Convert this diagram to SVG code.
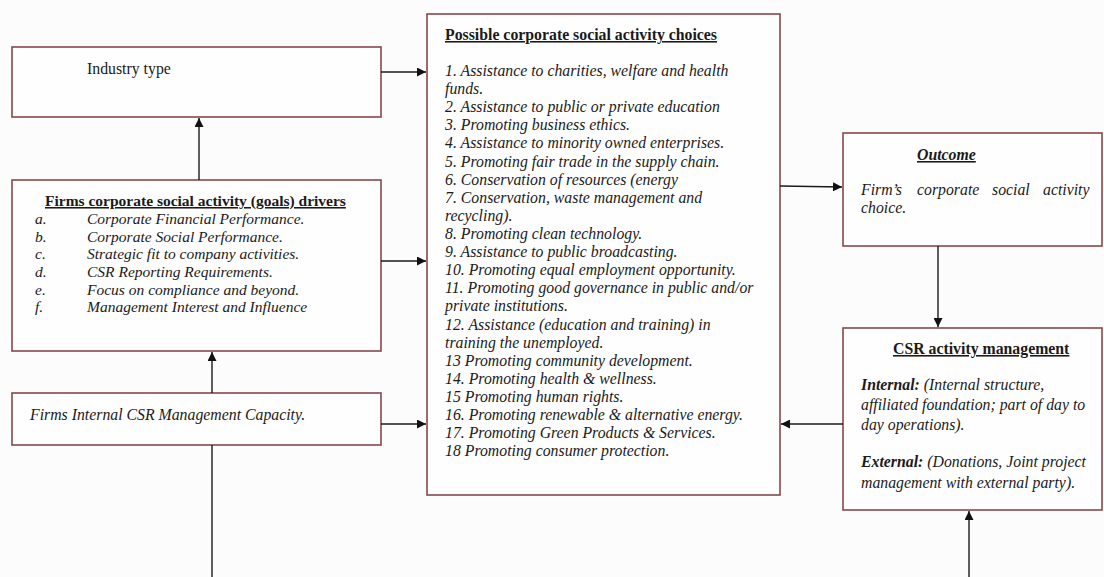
<svg xmlns="http://www.w3.org/2000/svg" width="1104" height="577" viewBox="0 0 1104 577">
<defs>
<style>
.box{fill:#fefefe;stroke:#85484a;stroke-width:1.6}
.t{font-family:"Liberation Serif","Times New Roman",serif;font-size:15.8px;fill:#1a1a1a}
.i{font-style:italic}
.b{font-weight:bold}
.u{text-decoration:underline}
.c{stroke:#1a1a1a;stroke-width:1.4;fill:none}
</style>
<marker id="ah" viewBox="0 0 10 10" refX="10" refY="5" markerWidth="10" markerHeight="9" markerUnits="userSpaceOnUse" orient="auto">
<path d="M0,0 L10,5 L0,10 z" fill="#111"/>
</marker>
</defs>
<rect width="1104" height="577" fill="#fcfcfc"/>

<g id="industry-type">
<rect class="box" x="12" y="47" width="369" height="70"/>
<text class="t" x="87" y="74">Industry type</text>
</g>

<g id="drivers">
<rect class="box" x="12" y="180" width="369" height="171"/>
<text class="t b u" x="45" y="206" style="font-size:15.5px">Firms corporate social activity (goals) drivers</text>
<g class="t i" style="font-size:15.5px">
<text x="35" y="224">a.</text><text x="87" y="224">Corporate Financial Performance.</text>
<text x="35" y="242">b.</text><text x="87" y="242">Corporate Social Performance.</text>
<text x="35" y="259">c.</text><text x="87" y="259">Strategic fit to company activities.</text>
<text x="35" y="277">d.</text><text x="87" y="277">CSR Reporting Requirements.</text>
<text x="35" y="295">e.</text><text x="87" y="295">Focus on compliance and beyond.</text>
<text x="35" y="312">f.</text><text x="87" y="312">Management Interest and Influence</text>
</g>
</g>

<g id="internal-capacity">
<rect class="box" x="12" y="393" width="369" height="52"/>
<text class="t i" x="30" y="420">Firms Internal CSR Management Capacity.</text>
</g>

<g id="choices">
<rect class="box" x="427" y="14" width="353" height="481"/>
<text class="t b u" x="445" y="40">Possible corporate social activity choices</text>
<g class="t i">
<text x="445" y="76">1. Assistance to charities, welfare and health</text>
<text x="445" y="94">funds.</text>
<text x="445" y="112">2. Assistance to public or private education</text>
<text x="445" y="130">3. Promoting business ethics.</text>
<text x="445" y="148">4. Assistance to minority owned enterprises.</text>
<text x="445" y="167">5. Promoting fair trade in the supply chain.</text>
<text x="445" y="185">6. Conservation of resources (energy</text>
<text x="445" y="203">7. Conservation, waste management and</text>
<text x="445" y="221">recycling).</text>
<text x="445" y="239">8. Promoting clean technology.</text>
<text x="445" y="257">9. Assistance to public broadcasting.</text>
<text x="445" y="275">10. Promoting equal employment opportunity.</text>
<text x="445" y="293">11. Promoting good governance in public and/or</text>
<text x="445" y="311">private institutions.</text>
<text x="445" y="330">12. Assistance (education and training) in</text>
<text x="445" y="348">training the unemployed.</text>
<text x="445" y="366">13 Promoting community development.</text>
<text x="445" y="384">14. Promoting health &amp; wellness.</text>
<text x="445" y="402">15 Promoting human rights.</text>
<text x="445" y="420">16. Promoting renewable &amp; alternative energy.</text>
<text x="445" y="438">17. Promoting Green Products &amp; Services.</text>
<text x="445" y="456">18 Promoting consumer protection.</text>
</g>
</g>

<g id="outcome">
<rect class="box" x="843" y="133" width="259" height="113"/>
<text class="t b i u" x="917" y="160">Outcome</text>
<g class="t i">
<text x="861" y="195">Firm’s</text>
<text x="917" y="195">corporate</text>
<text x="992" y="195">social</text>
<text x="1043" y="195">activity</text>
<text x="861" y="213">choice.</text>
</g>
</g>

<g id="csr-management">
<rect class="box" x="843" y="328" width="259" height="182"/>
<text class="t b u" x="893" y="354">CSR activity management</text>
<g class="t i">
<text x="861" y="390"><tspan class="b">Internal:</tspan> (Internal structure,</text>
<text x="861" y="410">affiliated foundation; part of day to</text>
<text x="861" y="430">day operations).</text>
<text x="861" y="467"><tspan class="b">External:</tspan> (Donations, Joint project</text>
<text x="861" y="488">management with external party).</text>
</g>
</g>

<g id="connectors">
<line class="c" x1="381" y1="72" x2="426" y2="72" marker-end="url(#ah)"/>
<line class="c" x1="199" y1="180" x2="199" y2="118" marker-end="url(#ah)"/>
<line class="c" x1="381" y1="261" x2="426" y2="261" marker-end="url(#ah)"/>
<line class="c" x1="212" y1="393" x2="212" y2="352" marker-end="url(#ah)"/>
<line class="c" x1="381" y1="424" x2="426" y2="424" marker-end="url(#ah)"/>
<line class="c" x1="212" y1="577" x2="212" y2="445"/>
<line class="c" x1="780" y1="186" x2="842" y2="187" marker-end="url(#ah)"/>
<line class="c" x1="938" y1="246" x2="938" y2="327" marker-end="url(#ah)"/>
<line class="c" x1="843" y1="424" x2="781" y2="424" marker-end="url(#ah)"/>
<line class="c" x1="969" y1="577" x2="969" y2="511" marker-end="url(#ah)"/>
</g>
</svg>
